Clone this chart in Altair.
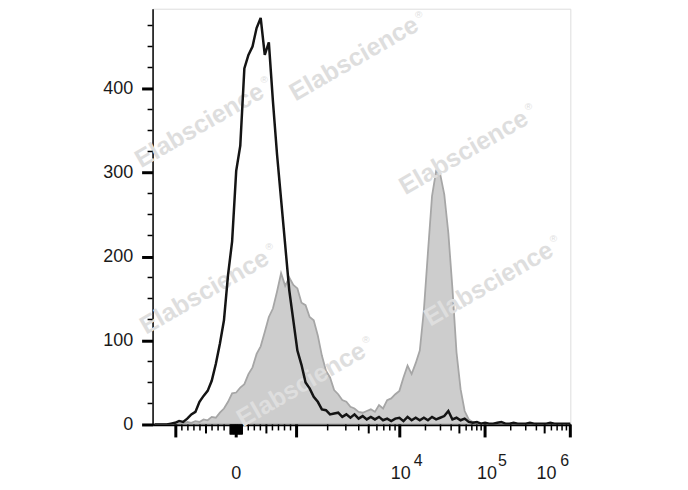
import altair as alt
import pandas as pd
import numpy as np

# ---- histogram data: counts per display-channel bin (scale 0-1024, 10 channels per bin)
control_counts = [
    0, 0, 0, 0, 1, 2, 4, 3, 7, 12,
    15, 27, 34, 40, 52, 72, 96, 124, 178, 218,
    302, 332, 424, 440, 450, 472, 484, 440, 455, 385,
    322, 268, 214, 160, 124, 88, 71, 50, 43, 33,
    27, 18, 17, 12, 13, 14, 9, 12, 8, 12,
    7, 10, 6, 9, 6, 9, 5, 7, 4, 7,
    8, 4, 9, 5, 8, 5, 8, 5, 9, 6,
    8, 10, 16, 6, 8, 5, 7, 3, 2, 3,
    1, 2, 1, 1, 2, 3, 1, 1, 2, 1,
    1, 1, 2, 1, 1, 1, 1, 2, 1, 1,
    1, 1, 1,
]
stained_counts = [
    0, 0, 0, 0, 0, 0, 0, 1, 3, 2,
    4, 3, 6, 5, 9, 8, 14, 19, 27, 37,
    38, 44, 48, 60, 68, 84, 93, 110, 128, 138,
    158, 180, 165, 175, 166, 162, 145, 142, 128, 124,
    106, 82, 64, 56, 41, 36, 29, 27, 21, 19,
    15, 14, 16, 18, 15, 23, 19, 29, 31, 36,
    40, 56, 70, 60, 73, 88, 136, 205, 272, 302,
    298, 274, 228, 162, 86, 42, 16, 6, 3, 2,
    1, 1, 0, 0, 0, 0, 0, 0, 0, 0,
    0, 0, 0, 0, 0, 0, 0, 0, 0, 0,
    0, 0, 0,
]
BIN = 10
channel = [BIN * i + BIN / 2 for i in range(len(control_counts))]

# ---- axis definitions
y_major = [0, 100, 200, 300, 400]
y_minor = [25, 50, 75, 125, 150, 175, 225, 250, 275, 325, 350, 375, 425, 450, 475]

x_major = [-1000, 0, 1000, 1e4, 1e5, 1e6]
x_mid = [-500, 500, 5e3, 5e4, 5e5]
x_near_zero = [s * v for s in (-1, 1) for v in range(10, 110, 10)]
x_minor = ([s * v for s in (-1, 1) for v in (200, 300, 400, 600, 700, 800, 900)]
           + [m * d for d in (1e3, 1e4, 1e5) for m in (2, 3, 4, 6, 7, 8, 9)])

# exponent labels: (value, base text, exponent text, base dx, exponent dx)
x_exp_labels = [(1e4, "10", "4", 1, 14), (1e5, "10", "5", 2, 13), (1e6, "10", "6", -24, -10)]
x_zero_label = (0, "0")

watermark_centers = [(355, 58), (200, 125), (465, 152), (205, 292), (490, 284), (302, 385)]


def to_channel(v):
    """Biexponential-style display transform (linear near zero, log above 10^3)."""
    if abs(v) <= 1000:
        return 205 + 0.148 * v
    if v <= 1e4:
        return 353 + 253 * np.log10(v / 1000)
    return 606 + 209 * np.log10(v / 1e4)


W, H = 419, 417
FONT = "Liberation Sans"
PLOT_LEFT, PLOT_TOP = 153, 8
WM_COLOR = "#dedede"

xs = alt.Scale(domain=[0, 1024], nice=False, zero=False)
ys = alt.Scale(domain=[0, 495], nice=False, zero=True)
x_ax = alt.Axis(labels=False, ticks=False, grid=False, title=None,
                domainColor="#000000", domainWidth=2.5)
y_ax = alt.Axis(values=y_major, tickSize=11, tickWidth=3, tickColor="#000000",
                domainColor="#000000", domainWidth=1.5, grid=False, title=None,
                labelFont=FONT, labelFontSize=18, labelColor="#1a1a1a", labelPadding=9)

hist = pd.DataFrame({"ch": channel, "control": control_counts, "stained": stained_counts})

area = alt.Chart(hist).mark_area(fill="#cdcdcd", stroke="#a6a6a6", strokeWidth=1.8,
                                 clip=True).encode(
    x=alt.X("ch:Q", scale=xs, axis=x_ax),
    y=alt.Y("stained:Q", scale=ys, axis=y_ax),
)

line = alt.Chart(hist).mark_line(color="#141414", strokeWidth=2.5, clip=True).encode(
    x=alt.X("ch:Q", scale=xs, axis=x_ax),
    y=alt.Y("control:Q", scale=ys, axis=y_ax),
)

# watermark
layers_wm = []
for cx, cy in watermark_centers:
    x = cx - PLOT_LEFT
    y = cy - PLOT_TOP
    layers_wm.append(alt.Chart(pd.DataFrame({"t": ["Elabscience"]})).mark_text(
        font=FONT, fontSize=25, fontWeight="bold", color=WM_COLOR, angle=330,
        align="center", baseline="middle").encode(
        text="t:N", x=alt.value(float(x)), y=alt.value(float(y))))
    layers_wm.append(alt.Chart(pd.DataFrame({"t": ["®"]})).mark_text(
        font=FONT, fontSize=10, color=WM_COLOR, align="center",
        baseline="middle").encode(
        text="t:N", x=alt.value(float(x + 65)), y=alt.value(float(max(y - 45, 6)))))

# x ticks
def tick_layer(vals, length, width):
    df = pd.DataFrame({"ch": [to_channel(v) for v in vals]})
    return alt.Chart(df).mark_rule(color="#000000", strokeWidth=width).encode(
        x=alt.X("ch:Q", scale=xs, axis=x_ax),
        y=alt.value(H), y2=alt.value(H + length))

ticks_minor = tick_layer(x_minor, 6, 1.5)
ticks_zero = tick_layer(x_near_zero, 10, 1.5)
ticks_mid = tick_layer(x_mid, 9, 2)
ticks_major = tick_layer(x_major, 13, 3)

# y minor ticks
ymin_df = pd.DataFrame({"v": y_minor})
y_minor_ticks = alt.Chart(ymin_df).mark_rule(color="#000000", strokeWidth=1.5).encode(
    y=alt.Y("v:Q", scale=ys, axis=y_ax), x=alt.value(-5), x2=alt.value(0))

# x labels
label_layers = []
zdf = pd.DataFrame({"ch": [to_channel(x_zero_label[0])], "t": [x_zero_label[1]]})
label_layers.append(alt.Chart(zdf).mark_text(
    font=FONT, fontSize=18, color="#1a1a1a", align="center", baseline="middle").encode(
    x=alt.X("ch:Q", scale=xs, axis=x_ax), y=alt.value(467), text="t:N"))
for val, base, ex, bdx, edx in x_exp_labels:
    d = pd.DataFrame({"ch": [to_channel(val)], "b": [base], "e": [ex]})
    label_layers.append(alt.Chart(d).mark_text(
        font=FONT, fontSize=18, color="#1a1a1a", align="center", baseline="middle",
        dx=bdx).encode(x=alt.X("ch:Q", scale=xs, axis=x_ax), y=alt.value(467), text="b:N"))
    label_layers.append(alt.Chart(d).mark_text(
        font=FONT, fontSize=16, color="#1a1a1a", align="left", baseline="middle",
        dx=edx).encode(x=alt.X("ch:Q", scale=xs, axis=x_ax), y=alt.value(454), text="e:N"))

chart = alt.layer(area, *layers_wm, line, ticks_minor, ticks_zero, ticks_mid, ticks_major,
                  y_minor_ticks, *label_layers).properties(
    width=W, height=H,
    padding={"left": 145, "top": 0, "right": 110, "bottom": 60},
    autosize=alt.AutoSizeParams(type="none"),
).configure_view(stroke="#999999", strokeWidth=1).configure(background="white")

chart.save("out.html", embed_options={"renderer": "svg", "actions": False})
